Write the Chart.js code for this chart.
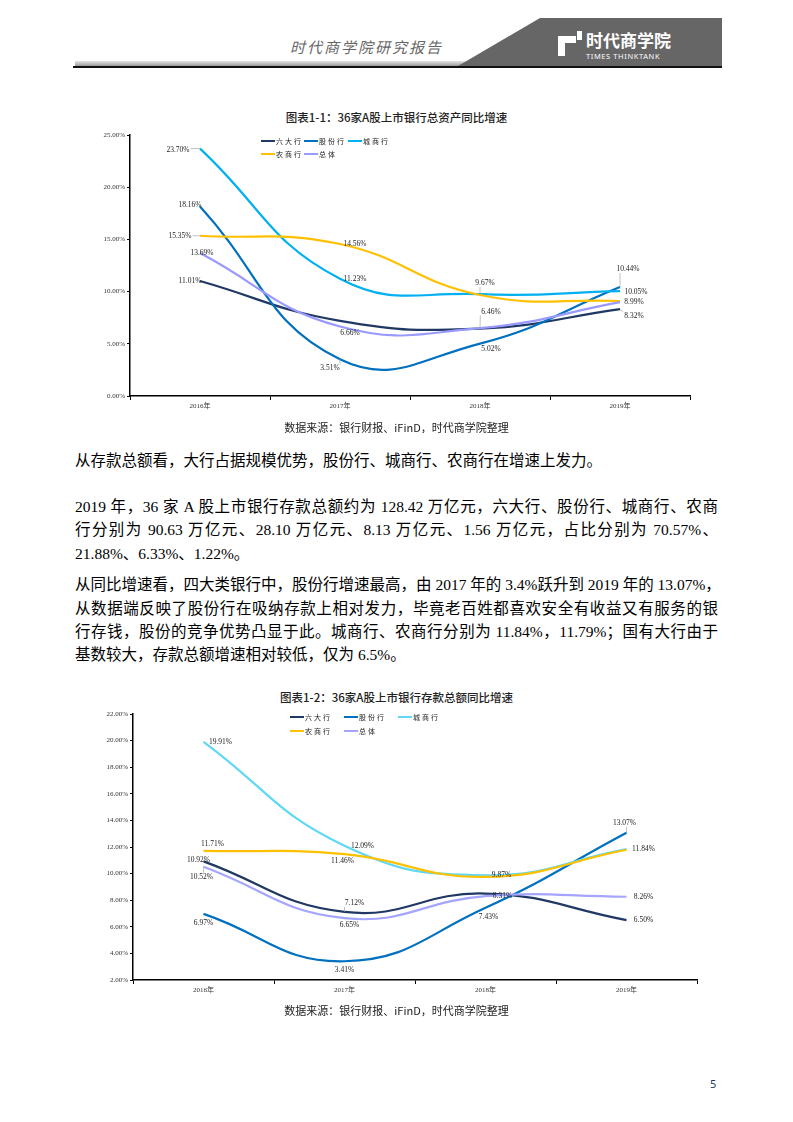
<!DOCTYPE html>
<html>
<head>
<meta charset="utf-8">
<script src="https://cdn.jsdelivr.net/npm/chart.js@4.4.0/dist/chart.umd.min.js"></script>
<style>
body { margin: 0; background: #fff; }
#page { position: relative; width: 793px; height: 1122px; overflow: hidden; background: #fff;
        font-family: "Liberation Serif", "Noto Sans CJK SC", serif; color: #000; }
.abs { position: absolute; }
.para { position: absolute; left: 75px; width: 643px; font-size: 15.5px; line-height: 20px; white-space: nowrap;
        text-align: justify; text-align-last: justify; }
.para.last { text-align-last: left; }
.ctitle { position: absolute; left: 0; width: 793px; text-align: center; font-family: "Noto Sans CJK SC", sans-serif;
          font-size: 11.5px; font-weight: 500; color: #222; }
.source { position: absolute; left: 0; width: 793px; text-align: center; font-family: "Noto Sans CJK SC", sans-serif;
          font-size: 11px; color: #222; }
.leg { position: absolute; font-size: 7px; font-family: "Noto Sans CJK SC", sans-serif; color: #222; letter-spacing: 2px;
       line-height: 8px; white-space: nowrap; }
.leg i { display: inline-block; width: 14px; height: 2.5px; vertical-align: middle; margin-right: 1px; margin-top: -2px; }
canvas { position: absolute; }
</style>
</head>
<body>
<div id="page">
  <!-- 页眉 -->
  <div class="abs" style="left:75px;top:61px;width:390px;height:5px;background:linear-gradient(to bottom,#e6e6e6,#9c9c9c);"></div>
  <div class="abs" style="left:0;top:0;width:793px;height:70px;background:#666;clip-path:polygon(540px 18px,722px 18px,722px 66px,458px 66px);"></div>
  <div class="abs" style="left:73px;top:66px;width:649px;height:1.5px;background:#111;"></div>
  <div class="abs" style="left:290px;top:37px;font-family:'Noto Sans CJK SC',sans-serif;font-style:italic;font-size:15px;letter-spacing:2px;color:#666;line-height:20px;">时代商学院研究报告</div>
  <div class="abs" style="left:558px;top:36px;width:18px;height:20px;background:#fff;"></div>
  <div class="abs" style="left:565px;top:43px;width:11px;height:13px;background:#666;"></div>
  <div class="abs" style="left:577px;top:31px;width:5px;height:9px;background:#fff;"></div>
  <div class="abs" style="left:586px;top:29px;font-family:'Noto Sans CJK SC',sans-serif;font-weight:700;font-size:17px;color:#fff;line-height:22px;">时代商学院</div>
  <div class="abs" style="left:586px;top:52px;font-family:'Noto Sans',sans-serif;font-size:7.5px;letter-spacing:0.6px;color:#fff;line-height:9px;">TIMES THINKTANK</div>

  <!-- 图表1-1 -->
  <div class="ctitle" style="top:109px;">图表1-1：36家A股上市银行总资产同比增速</div>
  <canvas id="chart1" width="620" height="295" style="left:80px;top:125px;width:620px;height:295px;"></canvas>
  <div id="legend1"></div>
  <div class="source" style="top:419px;">数据来源：银行财报、iFinD，时代商学院整理</div>

  <!-- 正文 -->
  <div class="para" style="top:451px;text-align-last:left;">从存款总额看，大行占据规模优势，股份行、城商行、农商行在增速上发力。</div>
  <div class="para" style="top:497px;">2019 年，36 家 A 股上市银行存款总额约为 128.42 万亿元，六大行、股份行、城商行、农商</div>
  <div class="para" style="top:520px;">行分别为 90.63 万亿元、28.10 万亿元、8.13 万亿元、1.56 万亿元，占比分别为 70.57%、</div>
  <div class="para last" style="top:544px;">21.88%、6.33%、1.22%。</div>
  <div class="para" style="top:575px;">从同比增速看，四大类银行中，股份行增速最高，由 2017 年的 3.4%跃升到 2019 年的 13.07%，</div>
  <div class="para" style="top:599px;">从数据端反映了股份行在吸纳存款上相对发力，毕竟老百姓都喜欢安全有收益又有服务的银</div>
  <div class="para" style="top:622px;">行存钱，股份的竞争优势凸显于此。城商行、农商行分别为 11.84%，11.79%；国有大行由于</div>
  <div class="para last" style="top:645px;">基数较大，存款总额增速相对较低，仅为 6.5%。</div>

  <!-- 图表1-2 -->
  <div class="ctitle" style="top:689px;">图表1-2：36家A股上市银行存款总额同比增速</div>
  <canvas id="chart2" width="624" height="300" style="left:83px;top:704px;width:624px;height:300px;"></canvas>
  <div id="legend2"></div>
  <div class="source" style="top:1002px;">数据来源：银行财报、iFinD，时代商学院整理</div>

  <div class="abs" style="left:710px;top:1076px;font-family:'Noto Sans',sans-serif;font-size:11px;color:#1f3864;">5</div>
</div>

<script>
// 类别与系列
const years = ['2016年', '2017年', '2018年', '2019年'];
const bankTypes = ['六大行', '股份行', '城商行', '农商行', '总体'];

// 图表1-1：总资产同比增速（%）
const assetSixBig = [11.01, 7.20, 6.46, 8.32];
const assetJoint  = [18.16, 3.51, 5.02, 10.44];
const assetCity   = [23.70, 11.23, 9.75, 10.05];
const assetRural  = [15.35, 14.56, 9.67, 9.10];
const assetTotal  = [13.69, 6.66, 6.50, 8.99];
const assetTicks  = [0, 5, 10, 15, 20, 25];

// 图表1-2：存款总额同比增速（%）
const depositSixBig = [10.92, 7.12, 8.50, 6.50];
const depositJoint  = [6.97, 3.41, 7.43, 13.07];
const depositCity   = [19.91, 12.09, 9.87, 11.84];
const depositRural  = [11.71, 11.46, 9.75, 11.79];
const depositTotal  = [10.52, 6.65, 8.31, 8.26];
const depositTicks  = [2, 4, 6, 8, 10, 12, 14, 16, 18, 20, 22];

// 样式
const colors1 = ['#1f3864', '#0070c0', '#00b0f0', '#ffc000', '#9999ff'];
const colors2 = ['#1f3864', '#0070c0', '#5fd8f6', '#ffc000', '#a5a5ff'];

// 数据标签偏移 [dx, dy, 引线]，null 表示不显示
const labelPos1 = [
    [[-10, 0], null, [11, -17, 1], [14, 7, 1]],
    [[-10, -1], [-10, 9, 1], [11, 5], [8, -18, 1]],
    [[-22, 1, 1], [15, 0], null, [16, 1]],
    [[-20, 0, 1], [15, 0], [5, -12, 1], null],
    [[2, 0], [10, 7], null, [14, 0]]
];
const labelPos2 = [
    [[-5, -1], [10, -9, 1], null, [17, 0]],
    [[0, 9], [0, 9], [3, 9], [-2, -10, 1]],
    [[17, 0], [18, 0], [16, 0], [17, 0]],
    [[9, -7], [-2, 7], null, null],
    [[-2, 10, 1], [5, 7], [17, 0], [17, 0]]
];

// 图例位置
const legendPos1 = [[261, 137], [304, 137], [348, 137], [261, 150], [304, 150]];
const legendPos2 = [[290, 713], [344, 713], [398, 713], [290, 727], [344, 727]];

const tickFont = { family: '"Liberation Serif", "Noto Sans CJK SC", serif', size: 7 };

const dataLabels = {
    id: 'dataLabels',
    afterDatasetsDraw(chart, args, opts) {
        const ctx = chart.ctx;
        ctx.save();
        ctx.font = '7.5px "Liberation Serif", serif';
        ctx.textAlign = 'center';
        ctx.textBaseline = 'middle';
        chart.data.datasets.forEach((ds, i) => {
            const meta = chart.getDatasetMeta(i);
            meta.data.forEach((pt, j) => {
                const p = opts.pos[i][j];
                if (!p) return;
                const text = ds.data[j].toFixed(2) + '%';
                const cx = pt.x + p[0], cy = pt.y + p[1];
                if (p[2]) {
                    const hw = ctx.measureText(text).width / 2 + 1;
                    const ex = Math.min(Math.max(pt.x, cx - hw), cx + hw);
                    const ey = Math.min(Math.max(pt.y, cy - 4), cy + 4);
                    ctx.strokeStyle = '#a6a6a6';
                    ctx.lineWidth = 0.7;
                    ctx.beginPath();
                    ctx.moveTo(pt.x, pt.y);
                    ctx.lineTo(ex, ey);
                    ctx.stroke();
                }
                ctx.fillStyle = '#222';
                ctx.fillText(text, cx, cy);
            });
        });
        ctx.restore();
    }
};

function buildLegend(id, colors, pos) {
    const box = document.getElementById(id);
    bankTypes.forEach((name, i) => {
        const d = document.createElement('div');
        d.className = 'leg';
        d.style.left = pos[i][0] + 'px';
        d.style.top = pos[i][1] + 'px';
        d.innerHTML = '<i style="background:' + colors[i] + '"></i>' + name;
        box.appendChild(d);
    });
}

function makeChart(id, series, colors, ticks, pos) {
    const ctx = document.getElementById(id).getContext('2d');
    return new Chart(ctx, {
        type: 'line',
        data: {
            labels: years,
            datasets: series.map((s, i) => ({
                label: bankTypes[i],
                data: s,
                borderColor: colors[i],
                backgroundColor: colors[i],
                borderWidth: 2.2,
                pointRadius: 0,
                tension: 0.45,
                fill: false,
                order: series.length - i
            }))
        },
        options: {
            responsive: false,
            animation: false,
            devicePixelRatio: 1,
            layout: { padding: { top: 10, right: 10, left: 0, bottom: 0 } },
            plugins: {
                legend: { display: false },
                tooltip: { enabled: false },
                dataLabels: { pos: pos }
            },
            scales: {
                x: {
                    offset: true,
                    grid: { offset: true, drawOnChartArea: false, drawTicks: true, tickLength: 4, color: '#000' },
                    border: { color: '#000', width: 1.5 },
                    ticks: { font: tickFont, color: '#333', padding: 2, maxRotation: 0 },
                    afterFit(scale) { scale.height = 24; }
                },
                y: {
                    min: ticks[0],
                    max: ticks[ticks.length - 1],
                    afterBuildTicks(scale) { scale.ticks = ticks.map(v => ({ value: v })); },
                    grid: { drawOnChartArea: false, drawTicks: true, tickLength: 3, color: '#000' },
                    border: { color: '#000', width: 1.5 },
                    ticks: {
                        font: tickFont, color: '#333', padding: 2,
                        callback: v => v.toFixed(2) + '%'
                    },
                    afterFit(scale) { scale.width = 50; }
                }
            }
        },
        plugins: [dataLabels]
    });
}

buildLegend('legend1', colors1, legendPos1);
buildLegend('legend2', colors2, legendPos2);
makeChart('chart1', [assetSixBig, assetJoint, assetCity, assetRural, assetTotal], colors1, assetTicks, labelPos1);
makeChart('chart2', [depositSixBig, depositJoint, depositCity, depositRural, depositTotal], colors2, depositTicks, labelPos2);
</script>
</body>
</html>
